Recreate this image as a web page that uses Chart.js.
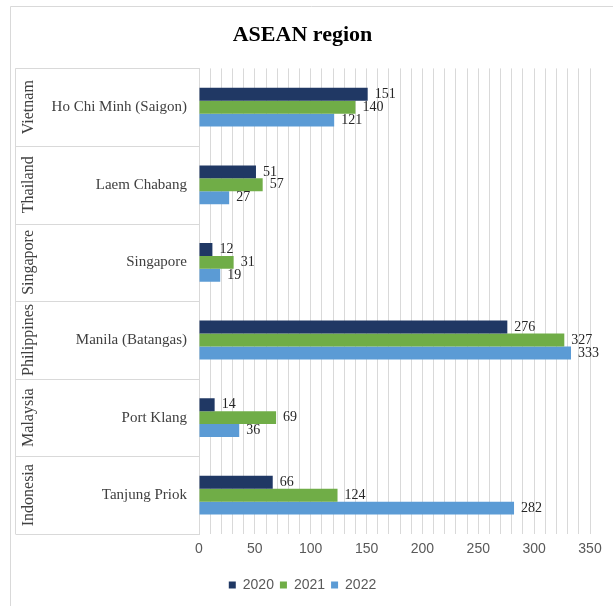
<!DOCTYPE html>
<html>
<head>
<meta charset="utf-8">
<title>ASEAN region</title>
<script src="https://cdn.jsdelivr.net/npm/chart.js@4/dist/chart.umd.min.js"></script>
<style>
  html, body { margin: 0; padding: 0; background: #fff; }
  canvas { display: block; }
</style>
</head>
<body>
<canvas id="portChart" width="613" height="606"></canvas>
<script>
// ports grouped by country, top to bottom
const countries = ["Vietnam", "Thailand", "Singapore", "Philippines", "Malaysia", "Indonesia"];
const ports = ["Ho Chi Minh (Saigon)", "Laem Chabang", "Singapore", "Manila (Batangas)", "Port Klang", "Tanjung Priok"];

const years = ["2020", "2021", "2022"];
const values2020 = [151, 51, 12, 276, 14, 66];
const values2021 = [140, 57, 31, 327, 69, 124];
const values2022 = [121, 27, 19, 333, 36, 282];

const xTicks = [0, 50, 100, 150, 200, 250, 300, 350];

const SERIF = "'Liberation Serif', 'DejaVu Serif', serif";
const SANS = "'Liberation Sans Narrow', 'Liberation Sans', sans-serif";
const lineGray = "#d9d9d9";

// -------------------------------------------------------------
// outer frame + two-level category box on the left
// -------------------------------------------------------------
const framePlugin = {
  id: "frame",
  beforeDraw(chart) {
    const ctx = chart.ctx;
    ctx.save();
    ctx.strokeStyle = lineGray;
    ctx.lineWidth = 1;
    ctx.beginPath();
    ctx.moveTo(10.5, chart.height);
    ctx.lineTo(10.5, 6.5);
    ctx.lineTo(chart.width, 6.5);
    ctx.stroke();
    ctx.restore();
  },
  afterDraw(chart) {
    const ctx = chart.ctx;
    const y = chart.scales.y;
    const area = chart.chartArea;
    const boxLeft = 15.5;
    const half = (y.getPixelForValue(1) - y.getPixelForValue(0)) / 2;

    ctx.save();
    ctx.strokeStyle = lineGray;
    ctx.lineWidth = 1;
    ctx.beginPath();
    ctx.moveTo(boxLeft, area.top);
    ctx.lineTo(boxLeft, area.bottom);
    for (let i = 0; i <= countries.length; i++) {
      const py = Math.round(y.getPixelForValue(i) - half) + 0.5;
      ctx.moveTo(boxLeft, py);
      ctx.lineTo(area.left, py);
    }
    ctx.stroke();

    // country names, rotated
    ctx.fillStyle = "#404040";
    ctx.font = "16px " + SERIF;
    ctx.textAlign = "center";
    ctx.textBaseline = "middle";
    countries.forEach((c, i) => {
      ctx.save();
      ctx.translate(29, y.getPixelForValue(i));
      ctx.rotate(-Math.PI / 2);
      ctx.fillText(c, 0, 0);
      ctx.restore();
    });
    ctx.restore();
  }
};

// value labels at the end of each bar
const valueLabels = {
  id: "valueLabels",
  afterDatasetsDraw(chart) {
    const ctx = chart.ctx;
    ctx.save();
    ctx.fillStyle = "#262626";
    ctx.font = "14px " + SERIF;
    ctx.textAlign = "left";
    ctx.textBaseline = "middle";
    chart.data.datasets.forEach((ds, di) => {
      chart.getDatasetMeta(di).data.forEach((bar, i) => {
        ctx.fillText(ds.data[i], bar.x + 7, bar.y);
      });
    });
    ctx.restore();
  }
};

new Chart(document.getElementById("portChart"), {
  type: "bar",
  data: {
    labels: ports,
    datasets: [
      { label: years[0], data: values2020, backgroundColor: "#203864" },
      { label: years[1], data: values2021, backgroundColor: "#70ad47" },
      { label: years[2], data: values2022, backgroundColor: "#5b9bd5" }
    ]
  },
  options: {
    indexAxis: "y",
    responsive: false,
    animation: false,
    layout: { padding: { left: 15, right: 23, top: 0, bottom: 4 } },
    datasets: {
      bar: { categoryPercentage: 0.5, barPercentage: 1 }
    },
    plugins: {
      title: {
        display: true,
        text: "ASEAN region",
        color: "#000",
        font: { family: SERIF, size: 22, weight: "bold" },
        padding: { top: 22, bottom: 20 }
      },
      legend: {
        position: "bottom",
        labels: {
          boxWidth: 7,
          boxHeight: 7,
          color: "#595959",
          font: { family: SANS, size: 14 },
          padding: 6
        }
      },
      tooltip: { enabled: false }
    },
    scales: {
      x: {
        min: 0,
        max: 350,
        afterFit(scale) { scale.height = 38; },
        ticks: {
          stepSize: 10,
          autoSkip: false,
          maxRotation: 0,
          color: "#595959",
          font: { family: SANS, size: 14 },
          padding: 7,
          callback: v => (xTicks.includes(v) ? v : "")
        },
        grid: { color: lineGray, drawTicks: false },
        border: { display: false }
      },
      y: {
        afterFit(scale) { scale.width = 184; },
        ticks: {
          color: "#404040",
          font: { family: SERIF, size: 15 },
          padding: 12
        },
        grid: { display: false, drawTicks: false },
        border: { display: true, color: lineGray }
      }
    }
  },
  plugins: [framePlugin, valueLabels]
});
</script>
</body>
</html>
